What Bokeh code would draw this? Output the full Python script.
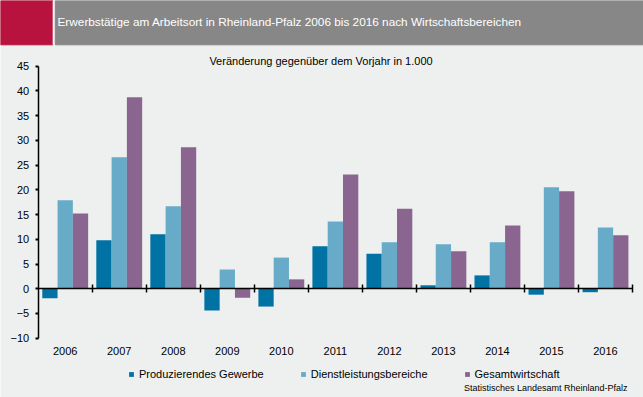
import numpy as np
from bokeh.plotting import figure
from bokeh.models import (Range1d, LinearAxis, FixedTicker, Legend, LegendItem, Label)
from bokeh.embed import file_html
from bokeh.resources import INLINE

years = ["2006", "2007", "2008", "2009", "2010", "2011", "2012", "2013", "2014", "2015", "2016"]
produzierendes = [-1.9, 9.8, 11.0, -4.4, -3.6, 8.6, 7.1, 0.7, 2.7, -1.2, -0.7]
dienstleistung = [17.9, 26.6, 16.7, 3.9, 6.3, 13.6, 9.4, 9.0, 9.4, 20.5, 12.4]
gesamt = [15.2, 38.7, 28.6, -1.8, 1.9, 23.1, 16.2, 7.6, 12.8, 19.7, 10.8]
series_names = ["Produzierendes Gewerbe", "Dienstleistungsbereiche", "Gesamtwirtschaft"]
colors = ["#0072a4", "#67abc9", "#896590"]
y_ticks = list(range(-10, 50, 5))
y_min, y_max = -10, 45

FONT = "Liberation Sans"
BG = "#eef0ef"
W, H = 643, 397

# pixel layout of the plotting area inside the canvas (top-left origin)
PX_L, PX_R = 37.7, 632.0      # x of value axis / right end of category axis
PX_T, PX_B = 65.7, 337.7      # y of y_max / y_min
n = len(years)

ux = (PX_R - PX_L) / n                 # px per category
uy = (PX_B - PX_T) / (y_max - y_min)   # px per unit
x0 = -PX_L / ux
x1 = n + (W - PX_R) / ux
y1 = y_max + PX_T / uy
y0 = y_min - (H - PX_B) / uy

def px_x(px):
    return x0 + px / ux

def px_y(py):
    return y1 - py / uy

p = figure(width=W, height=H, x_range=Range1d(x0, x1), y_range=Range1d(y0, y1),
           output_backend="svg", toolbar_location=None, min_border=0)
p.background_fill_color = BG
p.border_fill_color = BG
p.outline_line_color = None
p.grid.visible = False
p.xaxis.visible = False
p.yaxis.visible = False

# header band
HB = 44.3
p.quad(left=[px_x(0)], right=[px_x(52.7)], bottom=[px_y(HB)], top=[px_y(0)], color="#b8123f")
p.quad(left=[px_x(52.7)], right=[px_x(54.7)], bottom=[px_y(HB)], top=[px_y(0)], color="white")
p.quad(left=[px_x(54.7)], right=[px_x(W)], bottom=[px_y(HB)], top=[px_y(0)], color="#878787")
p.add_layout(Label(x=57, y=H - 21.5, x_units="screen", y_units="screen",
                   text="Erwerbstätige am Arbeitsort in Rheinland-Pfalz 2006 bis 2016 nach Wirtschaftsbereichen",
                   text_font=FONT, text_font_size="11.8px", text_color="white",
                   text_align="left", text_baseline="middle"))

# subtitle
p.add_layout(Label(x=320.5, y=H - 60, x_units="screen", y_units="screen",
                   text="Veränderung gegenüber dem Vorjahr in 1.000",
                   text_font=FONT, text_font_size="11px", text_color="black",
                   text_align="center", text_baseline="middle"))

# bars
centers = np.arange(n) + 0.5
bw = 0.283
renderers = []
for vals, off, col in zip([produzierendes, dienstleistung, gesamt], [-bw, 0, bw], colors):
    r = p.vbar(x=centers + off, top=vals, bottom=0, width=bw,
               fill_color=col, line_color=None)
    renderers.append(r)

# value axis
yax = LinearAxis(fixed_location=0, bounds=(y_min, y_max), ticker=FixedTicker(ticks=y_ticks))
yax.axis_line_color = "black"
yax.axis_line_width = 1.5
yax.major_tick_out = 3
yax.major_tick_in = 0
yax.major_tick_line_width = 2
yax.minor_tick_line_color = None
yax.major_label_text_font = FONT
yax.major_label_text_font_size = "11px"
yax.major_label_text_color = "black"
yax.major_label_standoff = 6
p.add_layout(yax, "left")

# zero line with ticks at the group boundaries
zax = LinearAxis(fixed_location=0, bounds=(0, n), ticker=FixedTicker(ticks=list(range(1, n + 1))))
zax.axis_line_color = "black"
zax.axis_line_width = 1.5
zax.major_tick_in = 4
zax.major_tick_out = 4
zax.major_tick_line_width = 1.5
zax.minor_tick_line_color = None
zax.major_label_text_font_size = "0px"
zax.major_label_text_alpha = 0
p.add_layout(zax, "below")

# year labels
xax = LinearAxis(fixed_location=y_min, ticker=FixedTicker(ticks=list(centers)),
                 major_label_overrides={float(c): y for c, y in zip(centers, years)})
xax.axis_line_color = None
xax.major_tick_line_color = None
xax.minor_tick_line_color = None
xax.major_label_text_font = FONT
xax.major_label_text_font_size = "11px"
xax.major_label_text_color = "black"
xax.major_label_standoff = 3
p.add_layout(xax, "below")

legend = Legend(items=[LegendItem(label=nm, renderers=[r]) for nm, r in zip(series_names, renderers)],
                orientation="horizontal", location=(128, H - 374 - 7),
                background_fill_alpha=0, border_line_color=None,
                glyph_width=6, glyph_height=6, label_standoff=5, spacing=36,
                padding=0, margin=0, label_height=14,
                label_text_font=FONT, label_text_font_size="11px", label_text_color="black")
p.add_layout(legend, "center")

p.add_layout(Label(x=627, y=H - 387, x_units="screen", y_units="screen",
                   text="Statistisches Landesamt Rheinland-Pfalz",
                   text_font=FONT, text_font_size="9px", text_color="black",
                   text_align="right", text_baseline="middle"))

open("out.html", "w").write(file_html(p, INLINE))
